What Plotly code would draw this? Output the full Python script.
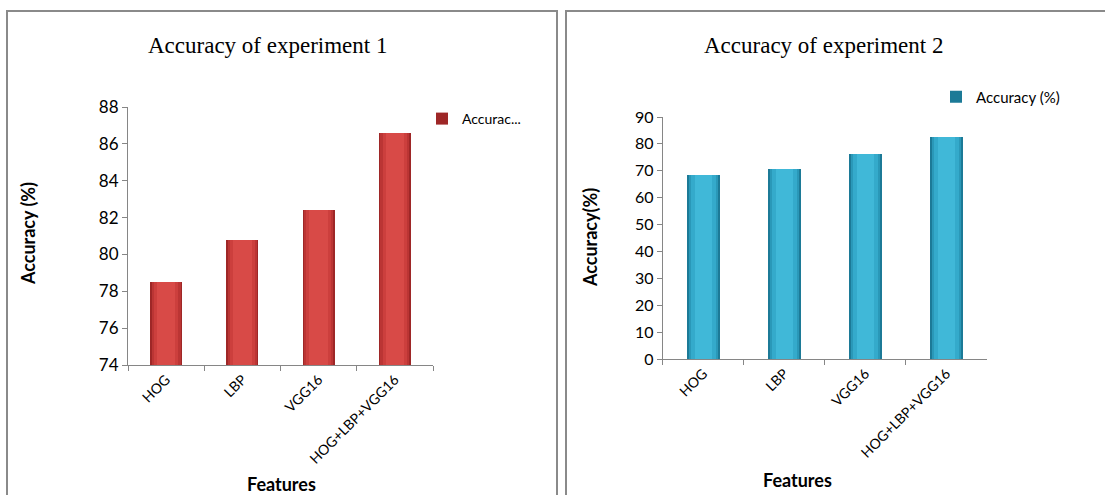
import plotly.graph_objects as go

# Feature sets compared in both experiments
features = ["HOG", "LBP", "VGG16", "HOG+LBP+VGG16"]

# Accuracy (%) per feature set
acc_exp1 = [78.5, 80.8, 82.4, 86.6]
acc_exp2 = [68.5, 70.6, 76.2, 82.4]

# Y-axis ticks
ticks_exp1 = [74, 76, 78, 80, 82, 84, 86, 88]
ticks_exp2 = [0, 10, 20, 30, 40, 50, 60, 70, 80, 90]

W, H = 1105, 495
AXIS_GREY = "#868686"
TICK_FONT = "Lato, 'Open Sans', sans-serif"


def px(x):
    return x / W


def py(y):
    return 1 - y / H


fig = go.Figure()

# Layered bars give each column a darker rim and a lighter core
red_layers = [("#9e2727", 0.42), ("#bb3534", 0.38), ("#cc3f3d", 0.32),
              ("#d84a47", 0.24)]
blue_layers = [("#1c7a97", 0.40), ("#2a98b8", 0.36), ("#34aacb", 0.30),
               ("#40b8d8", 0.22)]

for i, (col, w) in enumerate(red_layers):
    fig.add_trace(go.Bar(
        x=features, y=acc_exp1, width=w,
        marker=dict(color=col, line=dict(width=0)),
        name="Accurac...", showlegend=(i == 0), legend="legend",
        xaxis="x", yaxis="y",
    ))

for i, (col, w) in enumerate(blue_layers):
    fig.add_trace(go.Bar(
        x=features, y=acc_exp2, width=w,
        marker=dict(color=col, line=dict(width=0)),
        name="Accuracy (%)", showlegend=(i == 0), legend="legend2",
        xaxis="x2", yaxis="y2",
    ))

xcommon = dict(
    type="category", range=[-0.5, 3.5], showline=True, linecolor=AXIS_GREY,
    linewidth=1, ticks="outside", tickson="boundaries", ticklen=5,
    tickcolor=AXIS_GREY, tickangle=-45, showgrid=False, zeroline=False,
    tickfont=dict(family=TICK_FONT, size=14, color="#000"), fixedrange=True,
    automargin=False,
)
ycommon = dict(
    showline=True, linecolor=AXIS_GREY, linewidth=1, ticks="outside",
    ticklen=5, tickcolor=AXIS_GREY, showgrid=False, zeroline=False,
    fixedrange=True, automargin=False,
)

fig.update_layout(
    width=W, height=H, autosize=False,
    margin=dict(l=0, r=0, t=0, b=0, pad=0, autoexpand=False),
    paper_bgcolor="white", plot_bgcolor="white",
    barmode="overlay", bargap=0,
    xaxis=dict(domain=[px(128), px(433)], anchor="y", **xcommon),
    yaxis=dict(domain=[py(365), py(107)], anchor="x", range=[74, 88],
               tickvals=ticks_exp1,
               tickfont=dict(family=TICK_FONT, size=17, color="#000"),
               **ycommon),
    xaxis2=dict(domain=[px(662.7), px(986.7)], anchor="y2", **xcommon),
    yaxis2=dict(domain=[py(359), py(117)], anchor="x2", range=[0, 90],
                tickvals=ticks_exp2,
                tickfont=dict(family=TICK_FONT, size=16, color="#000"),
                **ycommon),
    legend=dict(x=px(422), y=py(119), xanchor="left", yanchor="middle",
                font=dict(family=TICK_FONT, size=14, color="#000"),
                bgcolor="rgba(0,0,0,0)", itemwidth=30),
    legend2=dict(x=px(936), y=py(97), xanchor="left", yanchor="middle",
                 font=dict(family=TICK_FONT, size=15, color="#000"),
                 bgcolor="rgba(0,0,0,0)", itemwidth=30),
    showlegend=True,
)

# Panel frames
frame = dict(type="rect", xref="paper", yref="paper",
             line=dict(color="#8a8a8a", width=2), fillcolor="rgba(0,0,0,0)")
fig.add_shape(x0=px(7), x1=px(557), y0=py(510), y1=py(11), **frame)
fig.add_shape(x0=px(566), x1=px(1120), y0=py(510), y1=py(11), **frame)

TITLE_FONT = dict(family="'Liberation Serif', 'Times New Roman', serif",
                  size=23, color="#000")
LABEL_FONT = dict(family=TICK_FONT, size=18, color="#000")

annotations = [
    dict(text="Accuracy of experiment 1", x=px(267), y=py(45),
         font=TITLE_FONT),
    dict(text="Accuracy of experiment 2", x=px(823), y=py(45),
         font=TITLE_FONT),
    dict(text="<b>Accuracy (%)</b>", x=px(28), y=py(234), textangle=-90,
         font=LABEL_FONT),
    dict(text="<b>Accuracy(%)</b>", x=px(590), y=py(238), textangle=-90,
         font=LABEL_FONT),
    dict(text="<b>Features</b>", x=px(281), y=py(484), font=LABEL_FONT),
    dict(text="<b>Features</b>", x=px(797), y=py(480), font=LABEL_FONT),
]
for a in annotations:
    fig.add_annotation(xref="paper", yref="paper", showarrow=False,
                       xanchor="center", yanchor="middle", **a)

fig.write_html("out.html")
